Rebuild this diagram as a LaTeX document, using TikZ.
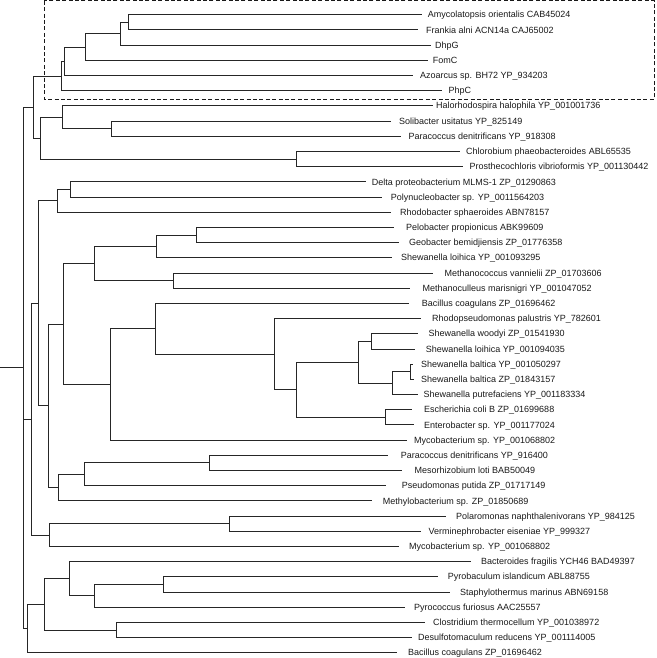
\documentclass[tikz,border=0pt]{standalone}
\usepackage{fontspec}
\setmainfont{Liberation Sans}
\begin{document}
\begin{tikzpicture}[x=1pt,y=-1pt,
  br/.style={draw=black!85,line width=0.8pt},
  lab/.style={anchor=west,inner sep=0pt,font=\fontsize{9}{10}\selectfont,text=black!90,text height=6.4pt,text depth=0pt},
  box/.style={draw=black!90,line width=1pt,dash pattern=on 4pt off 2.4pt}]
\useasboundingbox (0,0) rectangle (656,658);
% dashed box
\draw[box] (44.3,0.8) rectangle (654.3,99.3);
% internal nodes
\coordinate (r0) at (0,367.8);
\coordinate (root) at (23.7,367.8);
\coordinate (X1) at (33,107.04);
\coordinate (A) at (61,75.98);
\coordinate (n12345) at (64.3,61.25);
\coordinate (n1234) at (85.7,47.0);
\coordinate (n123) at (120,33.7);
\coordinate (n12) at (128,22.3);
\coordinate (B) at (40.3,138.1);
\coordinate (n7_89) at (62.3,117.2);
\coordinate (n89) at (111.7,128.6);
\coordinate (n1011) at (296.3,159.0);
\coordinate (X3) at (31.7,419.1);
\coordinate (n12_33) at (38.3,303.25);
\coordinate (n12_14) at (57,200.8);
\coordinate (n1213) at (70,189.4);
\coordinate (n15_33) at (48.3,405.7);
\coordinate (n15_29) at (63.3,323.9);
\coordinate (n15_19) at (94,263.43);
\coordinate (n15_17) at (156.3,246.35);
\coordinate (n1516) at (196,235.0);
\coordinate (n1819) at (173.7,280.5);
\coordinate (n20_29) at (110.7,384.35);
\coordinate (n20_28) at (155.7,328.7);
\coordinate (n21_28) at (274,354.1);
\coordinate (n22_28) at (296.3,389.7);
\coordinate (n22_26) at (358.3,362.2);
\coordinate (n2223) at (371.7,341.3);
\coordinate (n24_26) at (392.7,383.1);
\coordinate (n2425) at (410.7,371.7);
\coordinate (n2728) at (385.3,417.2);
\coordinate (n30_33) at (58,487.5);
\coordinate (n30_32) at (84.3,474.2);
\coordinate (n3031) at (209.7,462.8);
\coordinate (n34_36) at (49.3,535.0);
\coordinate (n3435) at (229.3,523.6);
\coordinate (X2) at (27.3,628.5);
\coordinate (n37_42) at (44.7,604.3);
\coordinate (n37_40) at (69.7,578.65);
\coordinate (n38_40) at (94.3,595.7);
\coordinate (n3839) at (163.3,584.3);
\coordinate (n4142) at (116.7,629.9);
% leaves: end of branch, label
\foreach \i/\ex/\tx/\yy/\t in {
 1/421.7/427.7/14.7/{Amycolatopsis orientalis CAB45024},
 2/418.3/426/29.9/{Frankia alni ACN14a CAJ65002},
 3/431/435/45.1/{DhpG},
 4/427.7/432.7/60.3/{FomC},
 5/413.3/420/75.5/{Azoarcus sp. BH72 YP\_934203},
 6/441.7/448.3/90.7/{PhpC},
 7/432.7/436/105.8/{Halorhodospira halophila YP\_001001736},
 8/390.7/399/121.0/{Solibacter usitatus YP\_825149},
 9/400.7/408.3/136.2/{Paracoccus denitrificans YP\_918308},
 10/460/466/151.4/{Chlorobium phaeobacteroides ABL65535},
 11/463.3/469.3/166.6/{Prosthecochloris vibrioformis YP\_001130442},
 12/365.7/371.7/181.8/{Delta proteobacterium MLMS-1 ZP\_01290863},
 13/381.7/390.7/197.0/{Polynucleobacter sp. YP\_0011564203},
 14/390.7/400/212.2/{Rhodobacter sphaeroides ABN78157},
 15/394.3/406/227.4/{Pelobacter propionicus ABK99609},
 16/399/409/242.6/{Geobacter bemidjiensis ZP\_01776358},
 17/391.7/401/257.7/{Shewanella loihica YP\_001093295},
 18/433.3/444.3/272.9/{Methanococcus vannielii ZP\_01703606},
 19/410/422.3/288.1/{Methanoculleus marisnigri YP\_001047052},
 20/409.3/421.7/303.3/{Bacillus coagulans ZP\_01696462},
 21/421/432/318.5/{Rhodopseudomonas palustris YP\_782601},
 22/418.3/428.3/333.7/{Shewanella woodyi ZP\_01541930},
 23/415/425.7/348.9/{Shewanella loihica YP\_001094035},
 24/413.3/421/364.1/{Shewanella baltica YP\_001050297},
 25/414.3/421/379.3/{Shewanella baltica ZP\_01843157},
 26/418.3/423.3/394.5/{Shewanella putrefaciens YP\_001183334},
 27/411.7/424/409.6/{Escherichia coli B ZP\_01699688},
 28/414/424/424.8/{Enterobacter sp. YP\_001177024},
 29/407.3/414/440.0/{Mycobacterium sp. YP\_001068802},
 30/387.7/400.7/455.2/{Paracoccus denitrificans YP\_916400},
 31/401.7/414.3/470.4/{Mesorhizobium loti BAB50049},
 32/386/401.7/485.6/{Pseudomonas putida ZP\_01717149},
 33/371.7/382.7/500.8/{Methylobacterium sp. ZP\_01850689},
 34/445.7/456/516.0/{Polaromonas naphthalenivorans YP\_984125},
 35/420.7/428.3/531.2/{Verminephrobacter eiseniae YP\_999327},
 36/399/409/546.4/{Mycobacterium sp. YP\_001068802},
 37/470.7/481/561.6/{Bacteroides fragilis YCH46 BAD49397},
 38/437.7/447.7/576.7/{Pyrobaculum islandicum ABL88755},
 39/450/460/591.9/{Staphylothermus marinus ABN69158},
 40/405/414/607.1/{Pyrococcus furiosus AAC25557},
 41/425/433/622.3/{Clostridium thermocellum YP\_001038972},
 42/412/418/637.5/{Desulfotomaculum reducens YP\_001114005},
 43/397/408/652.7/{Bacillus coagulans ZP\_01696462}}
{
 \coordinate (l\i) at (\ex,\yy);
 \node[lab] (t\i) at (\tx,\yy) {\t};
}
% branches
\draw[br] (r0) -- (root);
\foreach \p/\c in {root/X1,root/X3,root/X2,
 X1/A,X1/B,A/n12345,A/l6,n12345/n1234,n12345/l5,n1234/n123,n1234/l4,
 n123/n12,n123/l3,n12/l1,n12/l2,
 B/n7_89,B/n1011,n7_89/l7,n7_89/n89,n89/l8,n89/l9,n1011/l10,n1011/l11,
 X3/n12_33,X3/n34_36,n12_33/n12_14,n12_33/n15_33,n12_14/n1213,n12_14/l14,
 n1213/l12,n1213/l13,n15_33/n15_29,n15_33/n30_33,n15_29/n15_19,n15_29/n20_29,
 n15_19/n15_17,n15_19/n1819,n15_17/n1516,n15_17/l17,n1516/l15,n1516/l16,
 n1819/l18,n1819/l19,n20_29/n20_28,n20_29/l29,n20_28/l20,n20_28/n21_28,
 n21_28/l21,n21_28/n22_28,n22_28/n22_26,n22_28/n2728,n22_26/n2223,n22_26/n24_26,
 n2223/l22,n2223/l23,n24_26/n2425,n24_26/l26,n2425/l24,n2425/l25,
 n2728/l27,n2728/l28,n30_33/n30_32,n30_33/l33,n30_32/n3031,n30_32/l32,
 n3031/l30,n3031/l31,n34_36/n3435,n34_36/l36,n3435/l34,n3435/l35,
 X2/n37_42,X2/l43,n37_42/n37_40,n37_42/n4142,n37_40/l37,n37_40/n38_40,
 n38_40/n3839,n38_40/l40,n3839/l38,n3839/l39,n4142/l41,n4142/l42}
 \draw[br] (\p) |- (\c);
\end{tikzpicture}
\end{document}
